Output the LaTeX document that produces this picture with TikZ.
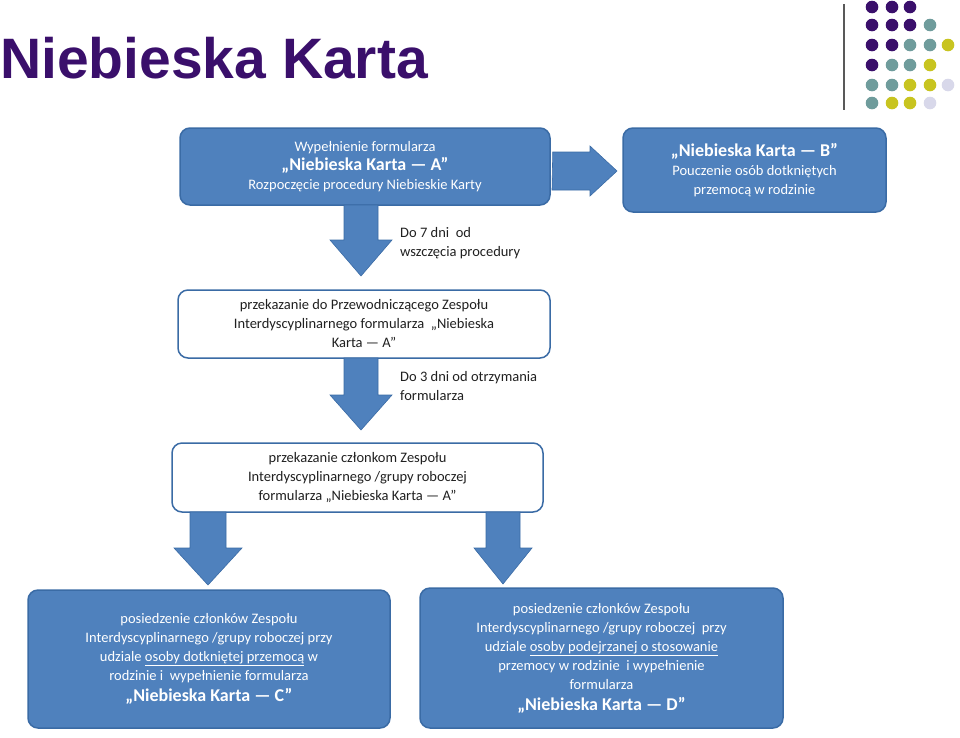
\documentclass[tikz,border=0pt]{standalone}
\usepackage{fontspec}
\setmainfont{Carlito}
\newfontfamily\titlefont{Liberation Sans}
\usetikzlibrary{positioning}
\definecolor{bluefill}{HTML}{4F81BD}
\definecolor{blueline}{HTML}{3A6BA5}
\definecolor{purp}{HTML}{3A0F6B}
\definecolor{teal}{HTML}{6F9C9C}
\definecolor{yel}{HTML}{C8C420}
\definecolor{lav}{HTML}{D8D8EA}
\definecolor{txt}{HTML}{202020}
\tikzset{
 x=1pt,y=-1pt,
 filled/.style={draw=blueline,line width=1.5pt,fill=bluefill,rounded corners=10pt,text=white,align=center,font=\fontsize{14.5}{19}\selectfont,inner sep=0pt},
 plain/.style={draw=blueline,line width=1.5pt,fill=white,rounded corners=10pt,text=txt,align=center,font=\fontsize{14.5}{19}\selectfont,inner sep=0pt},
 lbl/.style={text=txt,align=left,anchor=north west,font=\fontsize{14.5}{19}\selectfont,inner sep=0pt},
 barrow/.style={fill=bluefill,draw=blueline,line width=0.6pt},
 dot/.style={radius=6.3}
}
\newcommand{\bk}[1]{{\fontsize{18}{22}\selectfont\bfseries #1}}
\begin{document}
\begin{tikzpicture}
\useasboundingbox (0,0) rectangle (960,737);
\node[anchor=base west,inner sep=0pt,text=purp,font=\titlefont\fontsize{57}{60}\selectfont\bfseries] (title) at (0,78) {Niebieska Karta};
\draw[gray!70!black,line width=1.5pt] (844,4) -- (844,110);
% dots
\foreach \c/\x/\y in {purp/872/7,purp/892/7,purp/910/7,
 purp/872/25,purp/892/25,purp/910/25,teal/930/25,
 purp/872/45,purp/892/45,teal/910/45,teal/930/45,yel/948/45,
 purp/872/65,teal/892/65,teal/910/65,yel/930/65,
 teal/872/85,teal/892/85,yel/910/85,yel/930/85,lav/948/85,
 teal/872/103,yel/892/103,yel/910/103,lav/930/103}
 \fill[\c] (\x,\y) circle[radius=6.3];
% boxes
\node[filled,minimum width=370,minimum height=77] (A) at (365,166.5) {Wypełnienie formularza\\ \bk{„Niebieska Karta — A”}\\Rozpoczęcie procedury Niebieskie Karty};
\node[filled,minimum width=263,minimum height=84] (B) at (754.5,170) {\bk{„Niebieska Karta — B”}\\Pouczenie osób dotkniętych\\przemocą w rodzinie};
\node[plain,minimum width=372,minimum height=68] (P1) at (364,324) {przekazanie do Przewodniczącego Zespołu\\Interdyscyplinarnego formularza\ \ „Niebieska\\Karta — A”};
\node[plain,minimum width=371,minimum height=69] (P2) at (357.5,477.5) {przekazanie członkom Zespołu\\Interdyscyplinarnego /grupy roboczej\\formularza „Niebieska Karta — A”};
\node[filled,minimum width=362,minimum height=138] (C) at (209,659) {posiedzenie członków Zespołu\\Interdyscyplinarnego /grupy roboczej przy\\udziale \underline{osoby dotkniętej przemocą} w\\rodzinie i\ \ wypełnienie formularza\\[2pt] \bk{„Niebieska Karta — C”}};
\node[filled,minimum width=363,minimum height=140] (D) at (601.5,658) {posiedzenie członków Zespołu\\Interdyscyplinarnego /grupy roboczej\ \ przy\\udziale \underline{osoby podejrzanej o stosowanie}\\przemocy w rodzinie\ \ i wypełnienie\\formularza\\[2pt] \bk{„Niebieska Karta — D”}};
% labels
\node[lbl] (L1) at (400,227) {Do 7 dni\ \ od\\wszczęcia procedury};
\node[lbl] (L2) at (400,371) {Do 3 dni od otrzymania\\formularza};
% arrows (block shapes)
\draw[barrow] (A.east |- 0,152) ++(2,0) -- (590,152) -- (590,146) -- (617,171) -- (590,196) -- (590,190) -- (552,190) -- cycle;
\draw[barrow] (344,205) -- (378,205) -- (378,240) -- (392,240) -- (361,276) -- (330,240) -- (344,240) -- cycle;
\draw[barrow] (344,358) -- (378,358) -- (378,395) -- (392,395) -- (361,430) -- (330,395) -- (344,395) -- cycle;
\draw[barrow] (190,512) -- (226,512) -- (226,548) -- (242,548) -- (208,585) -- (174,548) -- (190,548) -- cycle;
\draw[barrow] (486,512) -- (520,512) -- (520,548) -- (532,548) -- (503,584) -- (474,548) -- (486,548) -- cycle;
\end{tikzpicture}
\end{document}
